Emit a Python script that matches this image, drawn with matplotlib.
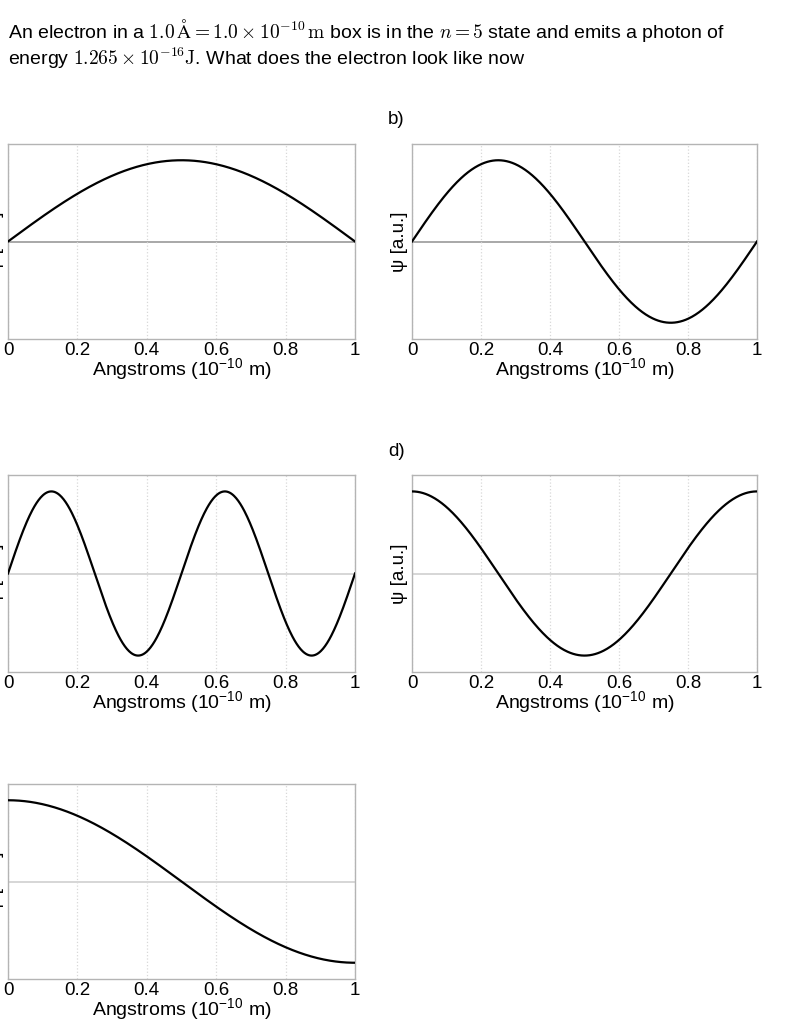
import numpy as np
import matplotlib
matplotlib.use("Agg")
import matplotlib.pyplot as plt

plt.rcParams['font.family'] = ['Liberation Sans', 'DejaVu Sans']
plt.rcParams['mathtext.fontset'] = 'custom'
plt.rcParams['mathtext.rm'] = 'Liberation Sans'
plt.rcParams['mathtext.it'] = 'Liberation Sans:italic'
plt.rcParams['mathtext.bf'] = 'Liberation Sans:bold'

# ---- data ----
panel_labels = ['a)', 'b)', 'c)', 'd)', 'e)']
quantum_numbers = [1, 2, 4, 2, 1]          # number of half-wavelengths in the box
wave_types = ['sin', 'sin', 'sin', 'cos', 'cos']
amplitudes = [1.0, 1.0, 1.0, 1.0, 1.0]
box_length = 1.0                             # Angstrom
xtick_values = [0, 0.2, 0.4, 0.6, 0.8, 1]
xtick_labels = ['0', '0.2', '0.4', '0.6', '0.8', '1']
xlabel_text = 'Angstroms (10$^{-10}$ m)'
ylabel_text = 'ψ [a.u.]'
title_line1 = (r'An electron in a $1.0\,\mathrm{\AA} = 1.0\times 10^{-10}\,\mathrm{m}$'
               r' box is in the $n = 5$ state and emits a photon of')
title_line2 = r'energy $1.265\times 10^{-16}\mathrm{J}$. What does the electron look like now'

W, H = 793, 1024
fig = plt.figure(figsize=(W / 100, H / 100), dpi=100)

# pixel boxes (left, top, right, bottom)
boxes = [
    (8, 144, 355, 339),
    (412, 144, 757, 339),
    (8, 475, 355, 672),
    (412, 475, 757, 672),
    (8, 784, 355, 979),
]
zero_colors = ['#9a9a9a', '#9a9a9a', '#cfcfcf', '#cfcfcf', '#cfcfcf']

xs = np.linspace(0, box_length, 500)
for i, (l, t, r, b) in enumerate(boxes):
    w, h = r - l, b - t
    ax = fig.add_axes([l / W, 1 - b / H, w / W, h / H])
    k = quantum_numbers[i] * np.pi / box_length
    if wave_types[i] == 'sin':
        ys = amplitudes[i] * np.sin(k * xs)
    else:
        ys = amplitudes[i] * np.cos(k * xs)
    ax.axhline(0, color=zero_colors[i], lw=1.2, zorder=1)
    ax.plot(xs, ys, color='black', lw=1.6, zorder=3)
    ax.set_xlim(0, box_length)
    ax.set_ylim(-1.2, 1.2)
    ax.set_xticks(xtick_values)
    ax.set_xticklabels(xtick_labels)
    ax.set_yticks([])
    ax.tick_params(axis='x', length=0, pad=2.5, labelsize=13.5)
    ax.grid(axis='x', color='#d8d8d8', linestyle=':', lw=0.9)
    for s in ax.spines.values():
        s.set_color('#b4b4b4')
        s.set_linewidth(1.0)
    ax.set_xlabel(xlabel_text, fontsize=14)
    ax.xaxis.set_label_coords(0.5, -30 / h)
    ax.xaxis.label.set_va('center')
    ax.set_ylabel(ylabel_text, fontsize=13.5)
    ax.yaxis.set_label_coords(-12 / w, 0.5)
    ax.yaxis.label.set_va('center')
    ax.text(-24 / w, 1 + 24 / h, panel_labels[i], transform=ax.transAxes,
            fontsize=13.5, ha='left', va='center')

fig.text(8 / W, 1 - 30 / H, title_line1, fontsize=14, ha='left', va='center',
         math_fontfamily='cm')
fig.text(8 / W, 1 - 58 / H, title_line2, fontsize=14, ha='left', va='center',
         math_fontfamily='cm')

fig.savefig('out.png', dpi=100, facecolor='white')
